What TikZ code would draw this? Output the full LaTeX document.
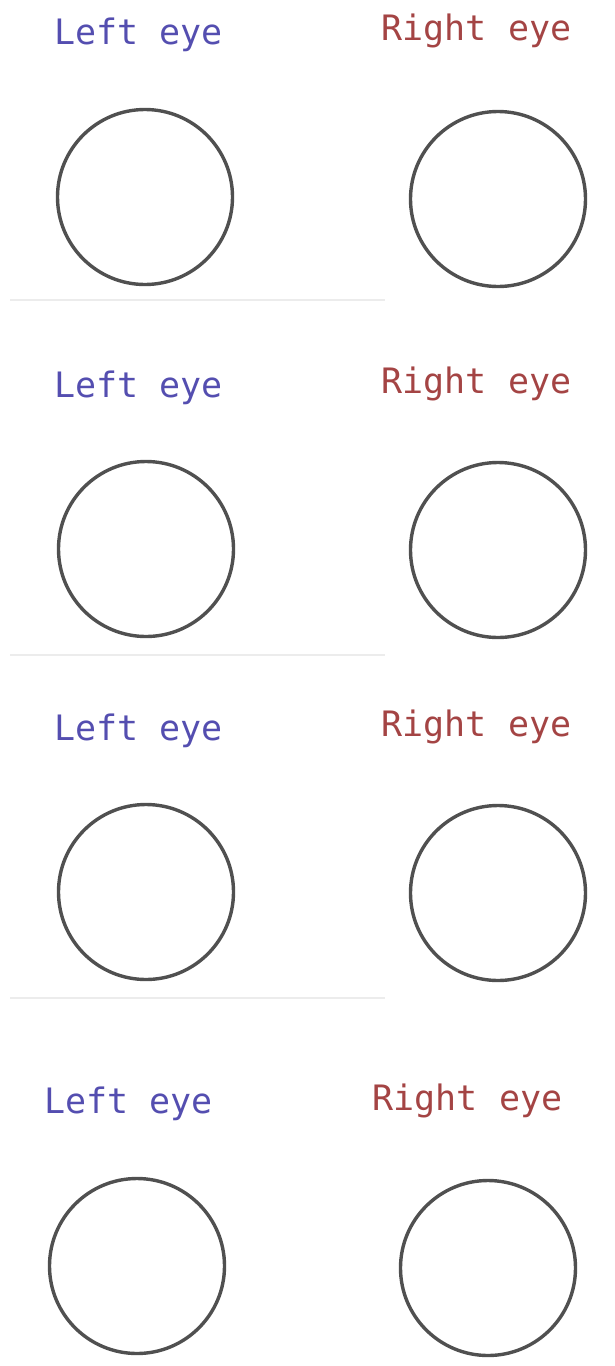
\documentclass[tikz,border=0pt]{standalone}
\usepackage{fontspec}
\newfontfamily\eyefont{DejaVu Sans Mono}
\definecolor{lefteye}{RGB}{84,78,176}
\definecolor{righteye}{RGB}{164,68,68}
\definecolor{ring}{RGB}{80,80,80}
\definecolor{sep}{RGB}{236,236,236}
\begin{document}
\begin{tikzpicture}[x=1pt,y=-1pt,
  lbl/.style={font=\eyefont\fontsize{35}{40}\selectfont, anchor=base, inner sep=0pt},
  leftlbl/.style={lbl, text=lefteye},
  rightlbl/.style={lbl, text=righteye},
  eye/.style={circle, draw=ring, line width=3.4pt, minimum size=175pt, inner sep=0pt},
  sepline/.style={draw=sep, line width=1.5pt}]
\fill[white] (0,0) rectangle (614,1366);
\useasboundingbox (0,0) rectangle (614,1366);
% panel 1
\node[leftlbl]  (l1) at (138.5,44) {Left eye};
\node[rightlbl] (r1) at (476.5,40) {Right eye};
\node[eye] (le1) at (145,197) {};
\node[eye] (re1) at (498,199) {};
\coordinate (s1a) at (10,300); \coordinate (s1b) at (385,300);
\draw[sepline] (s1a) -- (s1b);
% panel 2
\node[leftlbl]  (l2) at (138.5,397) {Left eye};
\node[rightlbl] (r2) at (476.5,393) {Right eye};
\node[eye] (le2) at (146,549) {};
\node[eye] (re2) at (498,550) {};
\coordinate (s2a) at (10,655); \coordinate (s2b) at (385,655);
\draw[sepline] (s2a) -- (s2b);
% panel 3
\node[leftlbl]  (l3) at (138.5,740) {Left eye};
\node[rightlbl] (r3) at (476.5,736) {Right eye};
\node[eye] (le3) at (146,892) {};
\node[eye] (re3) at (498,893) {};
\coordinate (s3a) at (10,998); \coordinate (s3b) at (385,998);
\draw[sepline] (s3a) -- (s3b);
% panel 4
\node[leftlbl]  (l4) at (128.5,1113) {Left eye};
\node[rightlbl] (r4) at (467.5,1110) {Right eye};
\node[eye] (le4) at (137,1266) {};
\node[eye] (re4) at (488,1268) {};
\end{tikzpicture}
\end{document}
